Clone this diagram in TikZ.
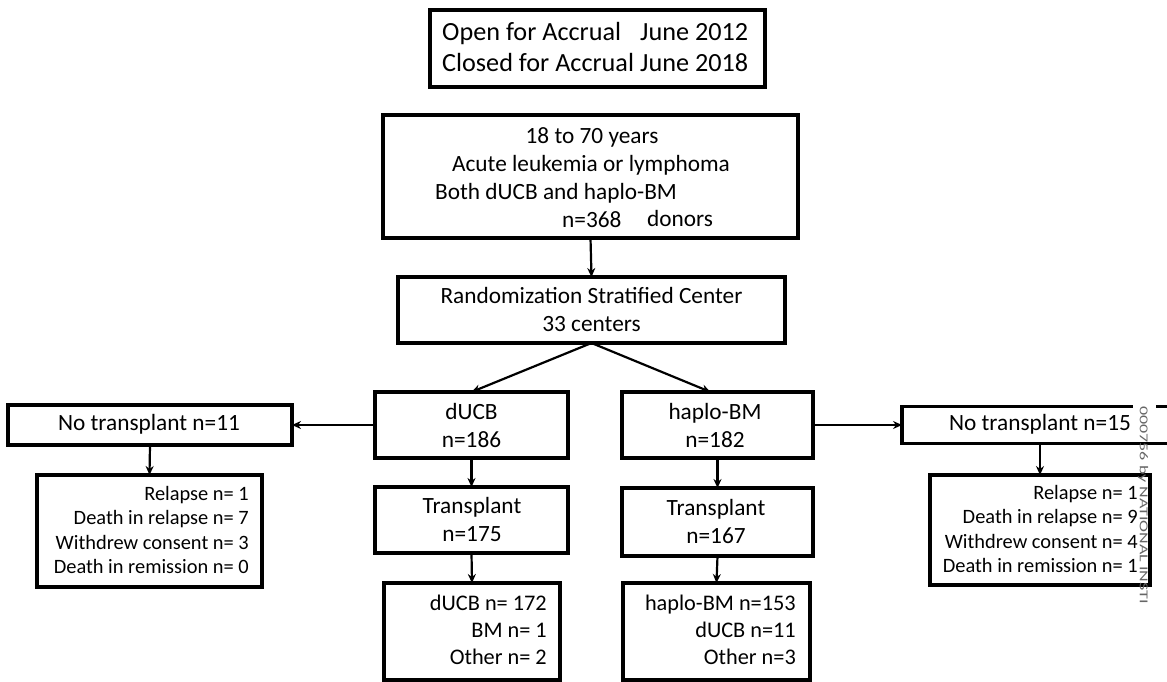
\documentclass[tikz,border=0pt]{standalone}
\usepackage{fontspec}
\setmainfont{Carlito}
\usetikzlibrary{arrows.meta,calc}
\begin{document}
\begin{tikzpicture}[x=1pt,y=-1pt,
  box/.style={draw, line width=3.6pt, inner sep=0pt, outer sep=0pt},
  txt/.style={inner sep=0pt, font=\fontsize{23.3}{28}\selectfont},
  ctxt/.style={inner sep=0pt, align=center, font=\fontsize{23.3}{28}\selectfont},
  rtxt/.style={inner sep=0pt, align=right, anchor=east, font=\fontsize{22.3}{27}\selectfont},
  stxt/.style={inner sep=0pt, align=right, anchor=east, font=\fontsize{20.4}{24.3}\selectfont},
  arr/.style={-{Stealth[length=9pt,width=8pt]}, line width=2.2pt}]
\useasboundingbox (0,0) rectangle (1167,682);
\fill[white] (0,0) rectangle (1167,682);

% top box
\node[box, minimum width=335pt, minimum height=77pt] (open) at (597.5,48.5) {};
\node[inner sep=0pt, anchor=west, font=\fontsize{26.2}{31}\selectfont] (opent) at (442,47.5)
  {\parbox{306pt}{\baselineskip=31pt Open for Accrual\hfill June 2012\\Closed for Accrual\hfill June 2018}};

% eligibility box
\node[box, minimum width=415pt, minimum height=123pt] (elig) at (590.5,176.5) {};
\node[txt] (e1) at (592,137) {18 to 70 years};
\node[txt] (e2) at (591,165) {Acute leukemia or lymphoma};
\node[txt, anchor=west] (e3) at (435,193) {Both dUCB and haplo-BM};
\node[txt, anchor=west] (e4) at (562,220) {n=368};
\node[txt, anchor=west] (e5) at (647,218) {donors};

% randomization
\node[box, minimum width=387pt, minimum height=66pt] (rand) at (591.5,310) {};
\node[ctxt] (randt) at (591.5,309) {Randomization Stratified Center\\33 centers};

% arms
\node[box, minimum width=193pt, minimum height=66pt] (ducb) at (471.5,425) {};
\node[ctxt] (ducbt) at (471.5,425) {dUCB\\n=186};
\node[box, minimum width=191pt, minimum height=66pt] (hap) at (717.5,425) {};
\node[ctxt] (hapt) at (715,425) {haplo-BM\\n=182};

\node[box, minimum width=193pt, minimum height=66pt] (tl) at (471.5,520) {};
\node[ctxt] (tlt) at (472,519) {Transplant\\n=175};
\node[box, minimum width=191pt, minimum height=68pt] (tr) at (717.5,522) {};
\node[ctxt] (trt) at (716,521) {Transplant\\n=167};

\node[box, minimum width=176pt, minimum height=97pt] (bl) at (472,631.5) {};
\node[rtxt] (blt) at (547,630) {dUCB n= 172\\BM n= 1\\Other n= 2};
\node[box, minimum width=187pt, minimum height=97pt] (br) at (716.5,631.5) {};
\node[rtxt] (brt) at (796,630) {haplo-BM n=153\\dUCB n=11\\Other n=3};

% no transplant, left
\node[box, minimum width=284pt, minimum height=40pt] (ntl) at (150,425) {};
\node[txt] (ntlt) at (149,424) {No transplant n=11};
\node[box, minimum width=225pt, minimum height=112pt] (rl) at (149.5,531) {};
\node[stxt] (rlt) at (249,530)
  {Relapse n= 1\\Death in relapse n= 7\\Withdrew consent n= 3\\Death in remission n= 0};

% no transplant, right
\node[box, minimum width=272pt, minimum height=37pt] (ntr) at (1038,425) {};
\node[txt] (ntrt) at (1040,424) {No transplant n=15};
\node[box, minimum width=220pt, minimum height=110pt] (rr) at (1040,530) {};
\node[stxt] (rrt) at (1138,529)
  {Relapse n= 1\\Death in relapse n= 9\\Withdrew consent n= 4\\Death in remission n= 1};

% connectors
\draw[arr] (elig.south) -- (rand.north);
\draw[arr] (rand.south) -- (ducb.north);
\draw[arr] (rand.south) -- ($(hap.north)+(-7,0)$);
\draw[arr] (ducb.west) -- (ntl.east);
\draw[arr] (hap.east) -- (ntr.west);
\draw[arr] (ducb.south) -- (tl.north);
\draw[arr] (tl.south) -- (bl.north);
\draw[arr] (hap.south) -- (tr.north);
\draw[arr] (tr.south) -- (br.north);
\draw[arr] (ntl.south) -- (rl.north);
\draw[arr] (ntr.south -| rr.north) -- (rr.north);

% stamp
\fill[white] (1133,398) rectangle (1156,411);
\node[inner sep=0pt, rotate=-90, anchor=west, text=black!60,
  font=\fontsize{12}{12}\selectfont] (stamp) at (1143,406)
  {\scalebox{1.5}[1]{000756 by NATIONAL INSTI}};
\end{tikzpicture}
\end{document}
